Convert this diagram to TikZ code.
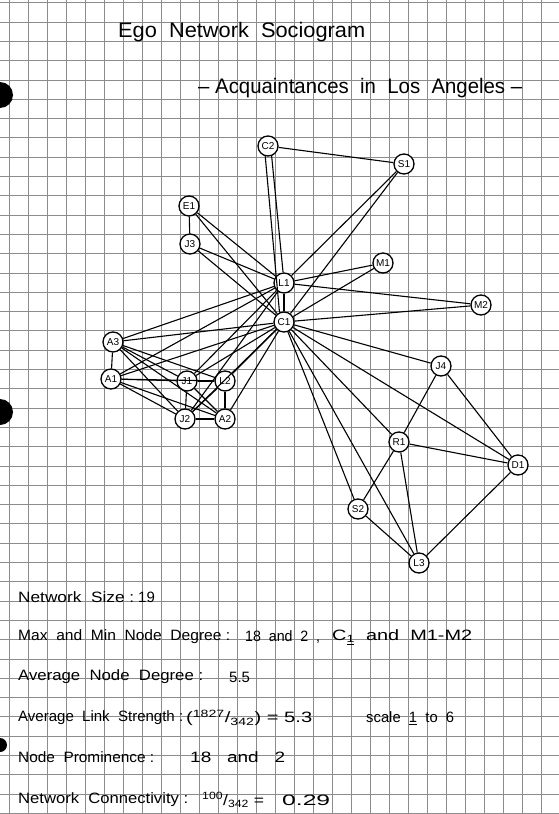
\documentclass[tikz,border=0pt]{standalone}
\usepackage{fontspec}
\usepackage{graphicx}
\setmainfont{Liberation Sans}
\newcommand{\hw}[2]{\resizebox{#1}{\height}{#2}}
\begin{document}
\begin{tikzpicture}[x=1pt,y=-1pt,
  gridline/.style={draw=black!45,line width=0.6pt},
  person/.style={circle,draw,line width=1.3pt,fill=white,minimum size=20pt,inner sep=0pt,font=\fontsize{10}{11}\selectfont},
  tie/.style={line width=1.1pt},
  hand/.style={anchor=west,inner sep=0pt,font=\fontsize{15}{16}\selectfont}]
\useasboundingbox (0,0) rectangle (559,814);
\fill[white] (0,0) rectangle (559,814);
% graph paper
\foreach \x in {9,28,...,559} \draw[gridline] (\x,0) -- (\x,814);
\foreach \y in {2.6,21.9,...,814} \draw[gridline] (0,\y) -- (559,\y);
% punch holes
\fill[black] (0,95) circle (13);
\fill[black] (0,412) circle (13);
\fill[black] (0,745) circle (7);
% title
\node[hand,font=\fontsize{21}{22}\selectfont] (t1) at (118,32) {\hw{247pt}{Ego\ \ Network\ \ Sociogram}};
\node[hand,font=\fontsize{21}{22}\selectfont] (t2) at (198,88) {\hw{324pt}{– Acquaintances\ \ in\ \ Los\ \ Angeles –}};
% nodes
\node[person] (C2) at (268,146) {C2};
\node[person] (S1) at (404,164) {S1};
\node[person] (E1) at (189,206) {E1};
\node[person] (J3) at (190,244) {J3};
\node[person] (M1) at (383,263) {M1};
\node[person] (L1) at (284,283) {L1};
\node[person] (M2) at (481,305) {M2};
\node[person] (C1) at (284,322) {C1};
\node[person] (A3) at (113,342) {A3};
\node[person] (J4) at (441,366) {J4};
\node[person] (A1) at (111,379) {A1};
\node[person] (J1) at (187,381) {J1};
\node[person] (L2) at (225,381) {L2};
\node[person] (J2) at (185,419) {J2};
\node[person] (A2) at (225,419) {A2};
\node[person] (R1) at (399,442) {R1};
\node[person] (D1) at (518,465) {D1};
\node[person] (S2) at (358,509) {S2};
\node[person] (L3) at (419,563) {L3};
% ties of C1
\draw[tie] (C2.255) -- (C1.115);
\foreach \n in {S1,E1,J3,M1,L1,M2,A3,J4,A1,J1,L2,J2,A2,R1,D1,S2,L3}
  \draw[tie] (C1) -- (\n);
% ties of L1
\draw[tie] (C2.290) -- (L1.95);
\foreach \n in {S1,E1,J3,M1,M2,A3,A1,J1,J2}
  \draw[tie] (L1) -- (\n);
% other ties
\draw[tie] (C2) -- (S1);
\draw[tie] (E1) -- (J3);
\foreach \a/\b in {A3/A1,A3/J1,A3/L2,A3/J2,A3/A2,A1/J1,A1/L2,A1/J2,A1/A2,J1/L2,J1/J2,J1/A2,L2/J2,L2/A2,J2/A2}
  \draw[tie] (\a) -- (\b);
\foreach \a/\b in {J4/R1,J4/D1,R1/D1,R1/S2,R1/L3,D1/L3,S2/L3}
  \draw[tie] (\a) -- (\b);
% statistics
\node[hand] (s1) at (18,597) {\hw{116pt}{Network\ \ Size :}};
\node[hand] (s1b) at (138,597) {19};
\node[hand] (s2) at (18,637) {\hw{212pt}{Max\ \ and\ \ Min\ \ Node\ \ Degree :}};
\node[hand] (s2b) at (245,637) {\hw{75pt}{18\ \ and\ \ 2\ \ ,}};
\node[hand] (s2c) at (332,637) {\hw{140pt}{C\textsubscript{\underline{1}}\ \ and\ \ M1-M2}};
\node[hand] (s3) at (18,677) {\hw{185pt}{Average\ \ Node\ \ Degree :}};
\node[hand] (s3b) at (229,677) {5.5};
\node[hand] (s4) at (18,718) {\hw{165pt}{Average\ \ Link\ \ Strength :}};
\node[hand] (s4b) at (186,718) {\hw{126pt}{(\textsuperscript{1827}/\textsubscript{342}) = 5.3}};
\node[hand] (s4c) at (366,718) {\hw{88pt}{scale\ \ \underline{1}\ \ to\ \ 6}};
\node[hand] (s5) at (18,757) {\hw{136pt}{Node\ \ Prominence :}};
\node[hand] (s5b) at (190,757) {\hw{95pt}{18\ \ \ and\ \ \ 2}};
\node[hand] (s6) at (18,800) {\hw{170pt}{Network\ \ Connectivity :}};
\node[hand] (s6b) at (202,800) {\hw{62pt}{\textsuperscript{100}/\textsubscript{342} =}};
\node[hand] (s6c) at (282,800) {\hw{48pt}{0.29}};
\end{tikzpicture}
\end{document}
